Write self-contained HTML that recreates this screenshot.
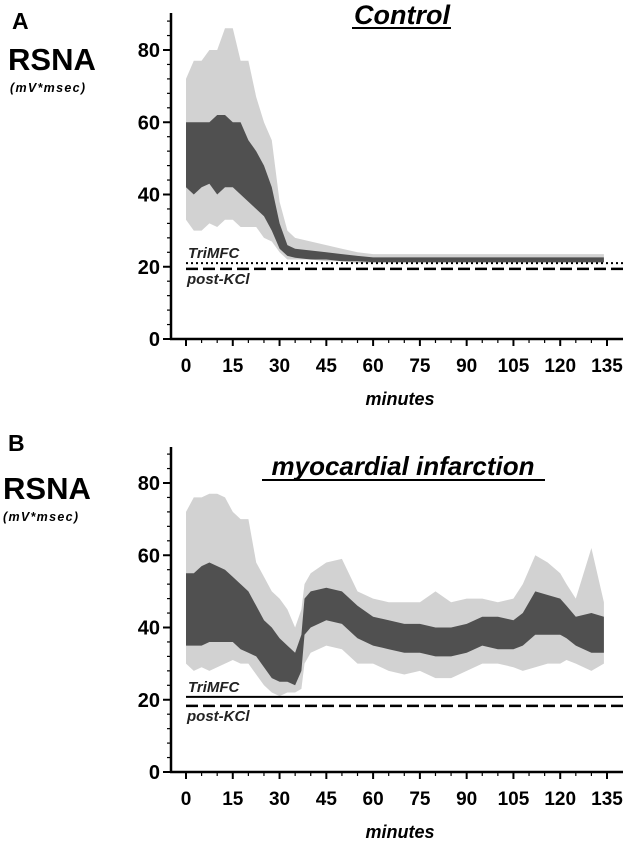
<!DOCTYPE html>
<html><head><meta charset="utf-8"><style>
html,body{margin:0;padding:0;background:#fff;}
svg{display:block;font-family:"Liberation Sans",Arial,sans-serif;}
</style></head><body>
<svg id="chart" width="626" height="842" viewBox="0 0 626 842" xmlns="http://www.w3.org/2000/svg">
<text x="12" y="29" font-size="23" font-weight="bold">A</text>
<text x="8" y="70" font-size="31" font-weight="bold">RSNA</text>
<text x="10" y="92" font-size="12.5" font-weight="bold" font-style="italic" letter-spacing="1.3">(mV*msec)</text>
<text x="402" y="24" font-size="27" font-weight="bold" font-style="italic" text-anchor="middle">Control</text>
<line x1="352" y1="28" x2="451" y2="28" stroke="#000" stroke-width="2"/>
<text x="8" y="451" font-size="23" font-weight="bold">B</text>
<text x="3" y="499" font-size="31" font-weight="bold">RSNA</text>
<text x="3" y="521" font-size="12.5" font-weight="bold" font-style="italic" letter-spacing="1.3">(mV*msec)</text>
<text x="403" y="475" font-size="26" font-weight="bold" font-style="italic" text-anchor="middle">myocardial infarction</text>
<line x1="262" y1="480" x2="545" y2="480" stroke="#000" stroke-width="2"/>
<g id="pa"></g><g id="pb"></g>
</svg>
<script>
const xTicks = [0,15,30,45,60,75,90,105,120,135];
const yTicks = [0,20,40,60,80];
// Panel A (Control)
const aTimes    = [0,2.5,5,7.5,10,12.5,15,17.5,20,22.5,25,27.5,30,32.5,35,40,45,50,55,60,80,100,120,134];
const aLow      = [33,30,30,32,31,33,33,31,31,31,28,27,24,22,22,22,21.5,21.5,21,21,21,21,21,21];
const aHigh     = [72,77,77,80,80,86,86,77,77,67,60,55,38,30,28,27,26,25,24,23.5,23.5,23.5,23.5,23.5];
const aCoreLow  = [42,40,42,43,40,42,42,40,38,36,34,30,25,23,22.5,22,22,21.5,21.5,21.3,21.3,21.3,21.3,21.3];
const aCoreHigh = [60,60,60,60,62,62,60,60,55,52,48,42,32,26,25,24.5,24,23.5,23,22.6,22.6,22.6,22.6,22.6];
const aTriMFC = 21.0, aPostKCl = 19.4;
// Panel B (myocardial infarction)
const bTimes    = [0,2.5,5,7.5,10,12.5,15,17.5,20,22.5,25,27.5,30,32.5,35,37,38,40,45,50,55,60,65,70,75,80,85,90,95,100,105,108,112,116,120,122,125,130,134];
const bLow      = [30,28,29,28,29,30,31,30,30,27,24,22,21,22,22,23,30,33,35,34,30,30,28,27,28,26,26,28,30,30,29,28,29,30,30,31,30,28,30];
const bHigh     = [72,76,76,77,77,76,72,70,70,58,54,50,48,45,40,45,52,55,58,59,50,48,47,47,47,50,47,48,48,47,48,52,60,58,55,52,48,62,47];
const bCoreLow  = [35,35,35,36,36,36,36,34,33,32,29,26,25,25,24,28,38,40,42,41,37,35,34,33,33,32,32,33,35,34,34,35,38,38,38,37,35,33,33];
const bCoreHigh = [55,55,57,58,57,56,54,52,50,46,42,40,37,35,33,38,48,50,51,50,46,43,42,41,41,40,40,41,43,43,42,44,50,49,48,46,43,44,43];
const bTriMFC = 20.8, bPostKCl = 18.3;

const NS = "http://www.w3.org/2000/svg";
function mk(parent, tag, attrs){const e=document.createElementNS(NS,tag);for(const k in attrs)e.setAttribute(k,attrs[k]);parent.appendChild(e);return e;}

function panel(g, y0, yTop, times, low, high, cLow, cHigh, tri, kcl, triSolid, pfx){
  const X = t => 186 + t*(607-186)/135;
  const Y = v => y0 - v*3.6125;
  function band(lo, hi, fill, name){
    let d = "M" + times.map((t,i)=>X(t).toFixed(1)+","+Y(hi[i]).toFixed(1)).join("L");
    for(let i=times.length-1;i>=0;i--) d += "L"+X(times[i]).toFixed(1)+","+Y(lo[i]).toFixed(1);
    const p = mk(g,"path",{d:d+"Z",fill:fill});
    
    
  }
  band(low, high, "#d2d2d2", pfx+"-scatter-range");
  band(cLow, cHigh, "#505050", pfx+"-scatter-core");
  const l1 = mk(g,"line",{x1:X(0),x2:623,y1:Y(tri),y2:Y(tri),stroke:"#000","stroke-width":2,"stroke-dasharray":triSolid?"none":"2 3"});
  
  
  const l2 = mk(g,"line",{x1:X(0),x2:623,y1:Y(kcl),y2:Y(kcl),stroke:"#000","stroke-width":2.5,"stroke-dasharray":"12 5"});
  
  
  const t1 = mk(g,"text",{x:188,y:Y(tri)-5,"font-size":15,"font-weight":"bold","font-style":"italic",fill:"#222"}); t1.textContent="TriMFC";
  
  
  const t2 = mk(g,"text",{x:187,y:Y(kcl)+15,"font-size":15,"font-weight":"bold","font-style":"italic",fill:"#222"}); t2.textContent="post-KCl";
  
  
  const ya = mk(g,"line",{x1:171,x2:171,y1:yTop,y2:y0+1,stroke:"#000","stroke-width":2.5});
  
  
  const xa = mk(g,"line",{x1:170,x2:623,y1:y0,y2:y0,stroke:"#000","stroke-width":2.5});
  
  
  for(let v=0; v<=88; v+=4){
    const major = v%20===0;
    mk(g,"line",{x1:major?163:167,x2:171,y1:Y(v),y2:Y(v),stroke:"#000","stroke-width":major?2:1.2});
  }
  yTicks.forEach(v=>{
    const t = mk(g,"text",{x:160,y:Y(v)+7,"font-size":20,"font-weight":"bold","text-anchor":"end"}); t.textContent=v;
    
    
  });
  for(let v=0; v<=135; v+=5){
    const major = v%15===0;
    mk(g,"line",{x1:X(v),x2:X(v),y1:y0,y2:y0+(major?7:4),stroke:"#000","stroke-width":major?2:1.2});
  }
  xTicks.forEach(v=>{
    const t = mk(g,"text",{x:X(v),y:y0+33,"font-size":19,"font-weight":"bold","text-anchor":"middle"}); t.textContent=v;
    
    
  });
  const xt = mk(g,"text",{x:400,y:y0+66,"font-size":18,"font-weight":"bold","font-style":"italic","text-anchor":"middle"}); xt.textContent="minutes";
  
  
}
panel(document.getElementById("pa"), 339, 13, aTimes, aLow, aHigh, aCoreLow, aCoreHigh, aTriMFC, aPostKCl, false, "panel-a");
panel(document.getElementById("pb"), 772, 447, bTimes, bLow, bHigh, bCoreLow, bCoreHigh, bTriMFC, bPostKCl, true, "panel-b");
</script>
</body></html>
